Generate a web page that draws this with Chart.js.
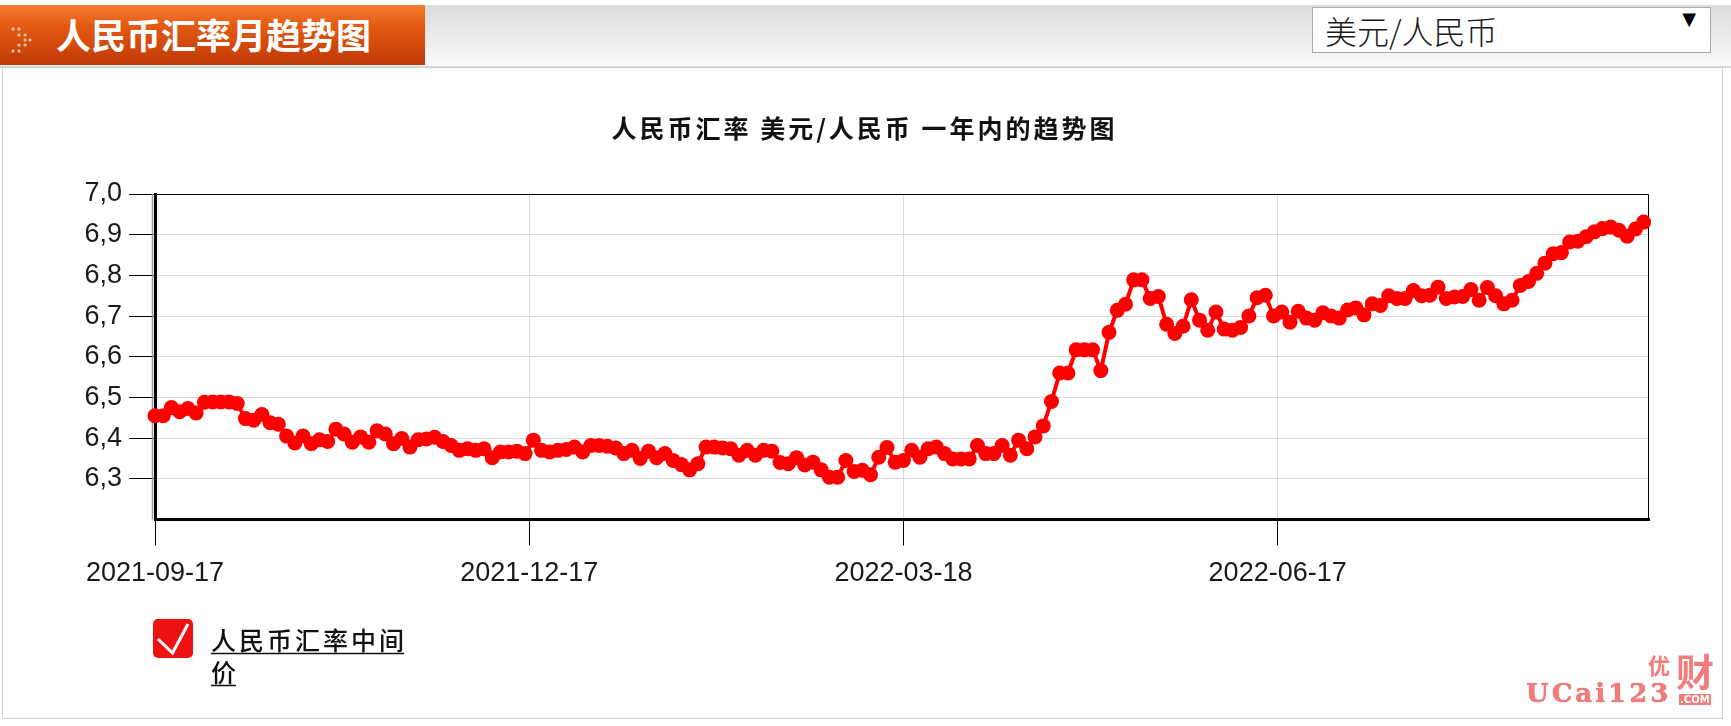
<!DOCTYPE html>
<html>
<head>
<meta charset="utf-8">
<script src="https://cdn.jsdelivr.net/npm/chart.js@4.4.1/dist/chart.umd.min.js"></script>
<style>
    body { margin: 0; width: 1731px; height: 726px; overflow: hidden; background: #fff; position: relative; font-family: "Noto Sans CJK SC", sans-serif; }
    #topbar { position: absolute; left: 0; top: 5px; width: 1731px; height: 61px; background: linear-gradient(#dcdcdc, #f9f9f9); border-bottom: 2px solid #dadada; }
    #tab { position: absolute; left: 0; top: 5px; width: 425px; height: 60px; background: linear-gradient(#f47d30 0%, #e35a12 35%, #c03806 100%); }
    #tab svg { position: absolute; left: 10px; top: 20px; }
    #tab span { position: absolute; left: 56px; top: 3px; line-height: 60px; color: #fff; font: bold 35px "Noto Sans CJK SC"; white-space: nowrap; }
    #pick { position: absolute; left: 1312px; top: 7px; width: 397px; height: 44px; border: 1px solid #a9a9a9; background: #fff; }
    #pick span { position: absolute; left: 12px; top: 0; line-height: 44px; font-size: 32px; font-weight: 300; color: #1a1a1a; }
    #pick b { position: absolute; right: 14px; top: 0; line-height: 44px; font: 18px "DejaVu Sans"; color: #000; }
    #box { position: absolute; left: 2px; top: 67px; width: 1719px; height: 650px; border: 1px solid #cfcfcf; background: #fff; }
    #box canvas { position: absolute; left: 0; top: 0; }
    #mark { position: absolute; left: 1526px; top: 648px; width: 200px; height: 60px; color: #f27b7b; }
    #mark .cn1 { position: absolute; left: 122px; top: 0; font: bold 22px "Noto Sans CJK SC"; }
    #mark .cn2 { position: absolute; left: 150px; top: -6px; font: bold 38px "Noto Sans CJK SC"; }
    #mark .en { position: absolute; left: 0; top: 30px; font: bold 26px "DejaVu Serif"; letter-spacing: 3px; text-shadow: 0 0 1px #b04040; }
    #mark .com { position: absolute; left: 153px; top: 46px; font: bold 10px "DejaVu Sans"; color: #fff; background: #f27b7b; padding: 0 1px; }
</style>
</head>
<body>
<div id="topbar"></div>
<div id="tab">
    <svg width="24" height="30" viewBox="0 0 24 30">
        <g fill="#f9c9a0">
            <circle cx="3" cy="4" r="1.6"/><circle cx="9" cy="4" r="1.6"/>
            <circle cx="9" cy="10" r="1.6"/><circle cx="15" cy="10" r="1.6"/>
            <circle cx="15" cy="15" r="1.6"/><circle cx="20" cy="15" r="1.6"/>
            <circle cx="9" cy="20" r="1.6"/><circle cx="15" cy="20" r="1.6"/>
            <circle cx="3" cy="26" r="1.6"/><circle cx="9" cy="26" r="1.6"/>
        </g>
    </svg>
    <span>人民币汇率月趋势图</span>
</div>
<div id="pick"><span>美元/人民币</span><b>▼</b></div>
<div id="box"><canvas id="rateChart" width="1719" height="650"></canvas></div>
<div id="mark"><span class="cn1">优</span><span class="cn2">财</span><span class="en">UCai123</span><span class="com">.COM</span></div>

<script>
// one reading every 2 calendar days, starting 2021-09-17
const startLabel = '2021-09-17';
const stepDays = 2;
const rates = [
    6.455, 6.455, 6.475, 6.465, 6.473, 6.462, 6.488, 6.489, 6.489, 6.489,
    6.485, 6.448, 6.444, 6.458, 6.438, 6.434, 6.405, 6.388, 6.405, 6.386,
    6.396, 6.392, 6.422, 6.410, 6.390, 6.403, 6.390, 6.418, 6.410, 6.386,
    6.399, 6.378, 6.396, 6.398, 6.402, 6.392, 6.382, 6.370, 6.374, 6.370,
    6.374, 6.352, 6.366, 6.366, 6.368, 6.362, 6.395, 6.370, 6.366, 6.370,
    6.372, 6.378, 6.366, 6.382, 6.382, 6.380, 6.376, 6.362, 6.370, 6.350,
    6.368, 6.352, 6.362, 6.345, 6.335, 6.322, 6.337, 6.378, 6.378, 6.376,
    6.374, 6.358, 6.370, 6.358, 6.370, 6.368, 6.340, 6.337, 6.352, 6.334,
    6.341, 6.322, 6.304, 6.304, 6.345, 6.318, 6.321, 6.310, 6.353, 6.377,
    6.341, 6.345, 6.370, 6.353, 6.374, 6.378, 6.362, 6.349, 6.349, 6.349,
    6.382, 6.362, 6.362, 6.382, 6.358, 6.395, 6.374, 6.403, 6.430, 6.490,
    6.560, 6.560, 6.617, 6.617, 6.617, 6.566, 6.660, 6.714, 6.729, 6.789,
    6.789, 6.743, 6.748, 6.680, 6.657, 6.675, 6.740, 6.690, 6.665, 6.710,
    6.668, 6.665, 6.672, 6.700, 6.745, 6.751, 6.700, 6.710, 6.685, 6.712,
    6.695, 6.690, 6.708, 6.700, 6.695, 6.715, 6.720, 6.703, 6.730, 6.726,
    6.750, 6.743, 6.743, 6.763, 6.750, 6.751, 6.771, 6.743, 6.747, 6.748,
    6.765, 6.739, 6.770, 6.750, 6.730, 6.739, 6.775, 6.785, 6.805, 6.830,
    6.853, 6.856, 6.882, 6.884, 6.895, 6.907, 6.915, 6.919, 6.911, 6.896,
    6.914, 6.931
];

const xTickDays = [0, 91, 182, 273];
const xTickLabels = [startLabel, '2021-12-17', '2022-03-18', '2022-06-17'];
const yTickValues = [6.3, 6.4, 6.5, 6.6, 6.7, 6.8, 6.9, 7.0];
const yTickLabels = ['6,3', '6,4', '6,5', '6,6', '6,7', '6,8', '6,9', '7,0'];

const chartTitle = '人民币汇率 美元/人民币 一年内的趋势图';
const legendLines = ['人民币汇率中间', '价'];

const points = rates.map((v, i) => ({ x: i * stepDays, y: v }));

const frame = {
    id: 'frame',
    beforeDatasetsDraw(chart) {
        const { ctx, chartArea: a } = chart;
        ctx.save();
        ctx.strokeStyle = '#000';
        ctx.lineWidth = 1;
        ctx.beginPath();
        ctx.moveTo(a.left, a.top + 0.5);
        ctx.lineTo(a.right - 0.5, a.top + 0.5);
        ctx.lineTo(a.right - 0.5, a.bottom);
        ctx.stroke();
        // soft shadow next to the heavy axis
        ctx.strokeStyle = '#9a9a9a';
        ctx.lineWidth = 1.5;
        ctx.beginPath();
        ctx.moveTo(a.left - 2.5, a.top);
        ctx.lineTo(a.left - 2.5, a.bottom);
        ctx.stroke();
        ctx.restore();
    },
    afterDraw(chart) {
        const { ctx } = chart;
        ctx.save();

        // title
        ctx.fillStyle = '#111';
        ctx.font = 'bold 25px "Noto Sans CJK SC"';
        ctx.letterSpacing = '3px';
        ctx.textAlign = 'center';
        ctx.textBaseline = 'middle';
        ctx.fillText(chartTitle, chart.width / 2 + 2, 60);

        // legend box with check mark
        ctx.fillStyle = '#ee1111';
        ctx.beginPath();
        ctx.roundRect(150, 551, 40, 39, 5);
        ctx.fill();
        ctx.strokeStyle = '#fff';
        ctx.lineWidth = 3;
        ctx.lineJoin = 'miter';
        ctx.beginPath();
        ctx.moveTo(155, 571);
        ctx.lineTo(169.5, 585);
        ctx.lineTo(185, 556);
        ctx.stroke();

        // legend label, wrapped and underlined
        ctx.fillStyle = '#111';
        ctx.font = '500 25px "Noto Sans CJK SC"';
        ctx.letterSpacing = '3px';
        ctx.textAlign = 'left';
        ctx.textBaseline = 'middle';
        ctx.strokeStyle = '#111';
        ctx.lineWidth = 1.5;
        legendLines.forEach((line, i) => {
            const y = 572 + i * 32;
            ctx.fillText(line, 208, y);
            const w = ctx.measureText(line).width - 3;
            ctx.beginPath();
            ctx.moveTo(208, y + 13.5);
            ctx.lineTo(208 + w, y + 13.5);
            ctx.stroke();
        });
        ctx.restore();
    }
};

new Chart(document.getElementById('rateChart'), {
    type: 'line',
    data: {
        datasets: [{
            label: legendLines.join(''),
            data: points,
            borderColor: '#ff0000',
            backgroundColor: '#ff0000',
            borderWidth: 4,
            pointRadius: 7.5,
            pointBorderWidth: 0,
            pointBackgroundColor: '#ff0000',
            tension: 0,
            clip: false
        }]
    },
    options: {
        responsive: false,
        animation: false,
        devicePixelRatio: 1,
        layout: { padding: { top: 126, right: 73, bottom: 0, left: 0 } },
        plugins: {
            legend: { display: false },
            title: { display: false },
            tooltip: { enabled: false }
        },
        scales: {
            x: {
                type: 'linear',
                min: 0,
                max: 363.3,
                afterBuildTicks: (s) => { s.ticks = xTickDays.map(v => ({ value: v })); },
                afterFit: (s) => { s.height = 198.5; },
                grid: { color: '#d9d9d9', tickColor: '#000', tickLength: 26, tickWidth: 1 },
                border: { color: '#000', width: 3 },
                ticks: {
                    color: '#1a1a1a',
                    font: { family: '"Liberation Sans", Arial', size: 27 },
                    padding: 12,
                    maxRotation: 0,
                    autoSkip: false,
                    callback: (v) => xTickLabels[xTickDays.indexOf(v)]
                }
            },
            y: {
                min: 6.2,
                max: 7.0,
                afterBuildTicks: (s) => { s.ticks = yTickValues.map(v => ({ value: v })); },
                afterFit: (s) => { s.width = 152; },
                grid: { color: '#d9d9d9', tickColor: '#000', tickLength: 26, tickWidth: 1 },
                border: { color: '#000', width: 3 },
                ticks: {
                    color: '#1a1a1a',
                    font: { family: '"Liberation Sans", Arial', size: 27 },
                    padding: 7,
                    callback: (v) => yTickLabels[yTickValues.findIndex(t => Math.abs(t - v) < 1e-6)]
                }
            }
        }
    },
    plugins: [frame]
});
</script>
</body>
</html>
